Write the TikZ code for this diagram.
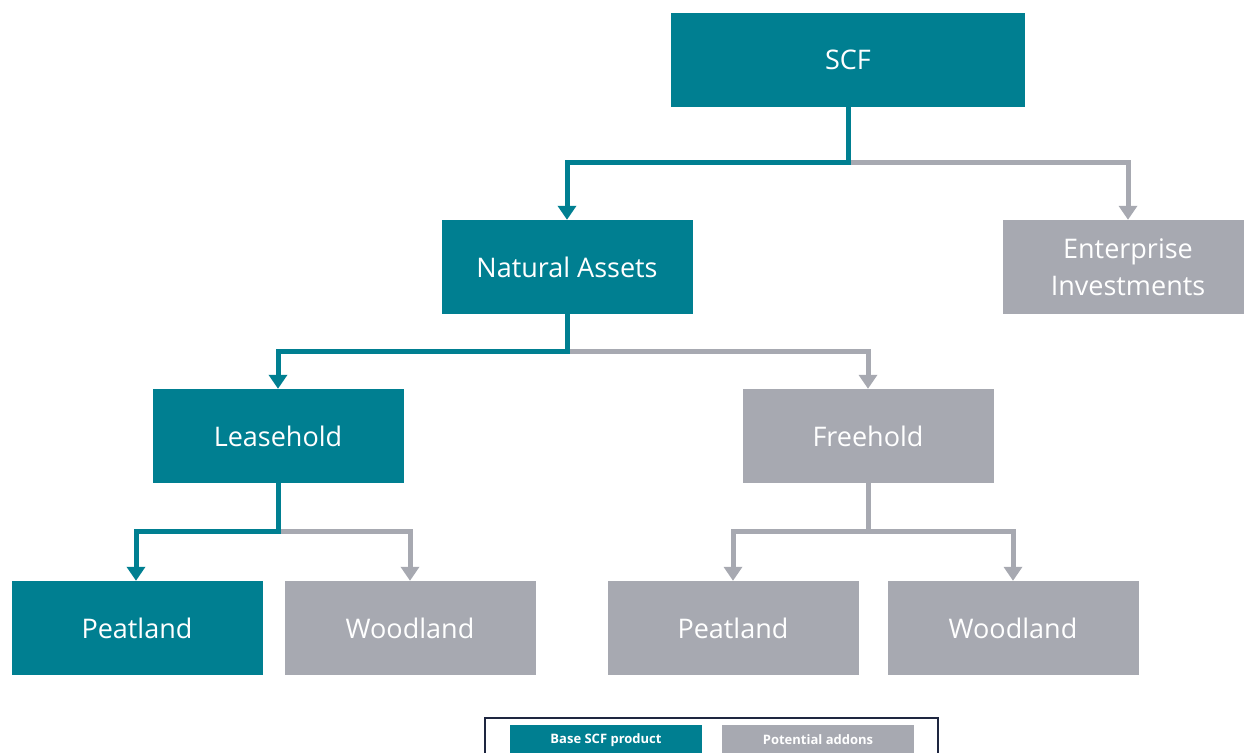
\documentclass[tikz,border=0pt]{standalone}
\usepackage{fontspec}
\setmainfont{Open Sans}
\usetikzlibrary{arrows.meta}
\definecolor{scfteal}{HTML}{007F91}
\definecolor{addgray}{HTML}{A7A9B1}
\definecolor{legendnavy}{HTML}{1E2640}
\tikzset{
  box/.style={minimum width=251pt, minimum height=94pt, inner sep=0pt,
    text=white, font=\fontsize{27}{37}\selectfont, align=center},
  basebox/.style={box, fill=scfteal},
  addbox/.style={box, fill=addgray},
  link/.style={line width=5pt, line join=miter,
    -{Triangle[width=18pt,length=14pt]}},
  baselink/.style={link, draw=scfteal},
  addlink/.style={link, draw=addgray},
  keybox/.style={minimum width=192pt, minimum height=30pt, inner sep=0pt,
    text=white, font=\fontsize{13}{15}\selectfont\bfseries},
}
\begin{document}
\begin{tikzpicture}[x=1pt,y=-1pt]
\useasboundingbox (0,0) rectangle (1244,752);
\begin{scope}
\clip (0,0) rectangle (1244,752);

% hierarchy boxes
\node[basebox, minimum width=354pt] (scf) at (848,60) {SCF};
\node[basebox] (na) at (567,267) {Natural Assets};
\node[addbox] (ei) at (1128,267) {Enterprise\\Investments};
\node[basebox] (lh) at (278,436) {Leasehold};
\node[addbox] (fh) at (868,436) {Freehold};
\node[basebox] (lhp) at (137,628) {Peatland};
\node[addbox] (lhw) at (410,628) {Woodland};
\node[addbox] (fhp) at (733,628) {Peatland};
\node[addbox] (fhw) at (1013,628) {Woodland};

% branch points below each parent
\coordinate (scfj) at ([yshift=-55pt]scf.south);
\coordinate (naj) at ([yshift=-37pt]na.south);
\coordinate (lhj) at ([yshift=-48pt]lh.south);
\coordinate (fhj) at ([yshift=-48pt]fh.south);

% add-on connectors (drawn first, under the base ones)
\draw[addlink] (scfj) -| (ei.north);
\draw[addlink] (naj) -| (fh.north);
\draw[addlink] (lhj) -| (lhw.north);
\draw[addlink, -] (fh.south) -- (fhj);
\draw[addlink] (fhj) -| (fhp.north);
\draw[addlink] (fhj) -| (fhw.north);

% base product connectors
\draw[baselink] (scf.south) -- (scfj) -| (na.north);
\draw[baselink] (na.south) -- (naj) -| (lh.north);
\draw[baselink] (lh.south) -- (lhj) -| ([xshift=-1pt]lhp.north);

% legend
\node[draw=legendnavy, line width=2pt, minimum width=453pt, minimum height=60pt,
  inner sep=0pt] (key) at (711.5,748) {};
\node[keybox, fill=scfteal] (keybase) at (606,740) {Base SCF product};
\node[keybox, fill=addgray] (keyadd) at (818,740) {Potential addons};
\end{scope}
\end{tikzpicture}
\end{document}
